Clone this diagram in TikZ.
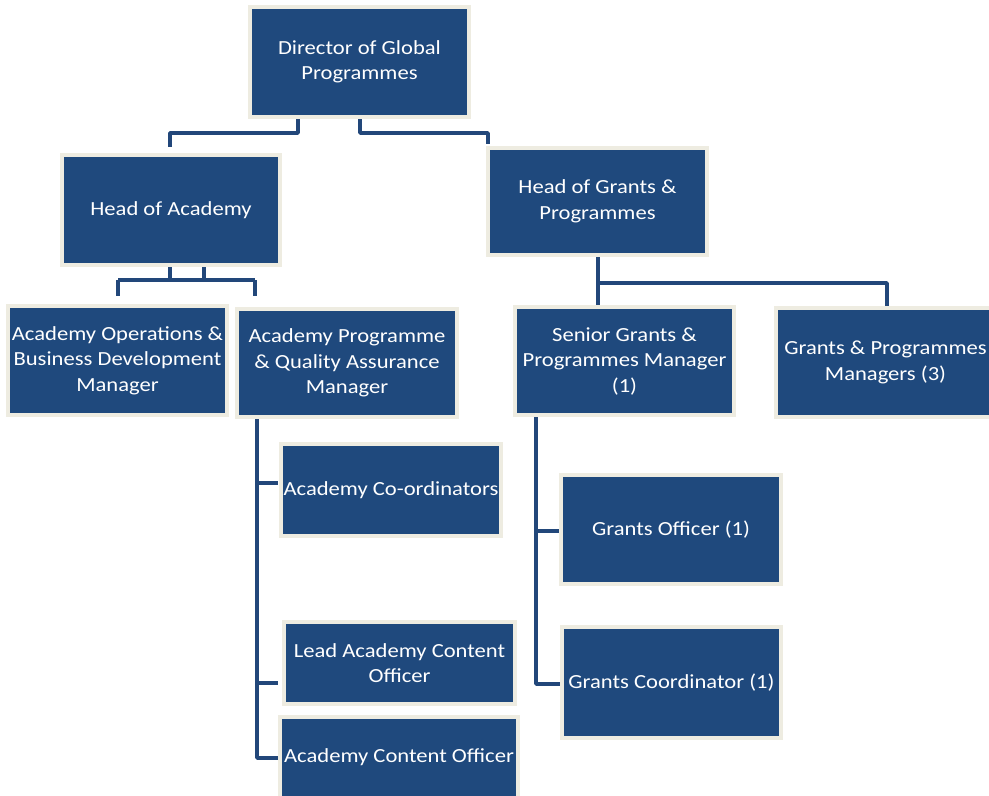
\documentclass[tikz,border=0pt]{standalone}
\usepackage{fontspec}
\setmainfont[FakeStretch=1.13]{Carlito}
\usetikzlibrary{backgrounds}
\definecolor{boxblue}{HTML}{1F497D}
\definecolor{boxcream}{HTML}{EEECE1}
\definecolor{connblue}{HTML}{22477A}
\begin{document}
\begin{tikzpicture}[x=1pt,y=-1pt,
  orgbox/.style={draw=boxcream, line width=4pt, fill=boxblue, text=white,
    align=center, inner sep=0pt, font=\fontsize{20}{25.5}\selectfont},
  conn/.style={draw=connblue, line width=3.5pt, line join=round}]
\useasboundingbox (0,0) rectangle (989,796);
\clip (0,0) rectangle (989,796);

\node[orgbox, minimum width=219pt, minimum height=110pt] (dir) at (359.5,62) {Director of Global\\Programmes};
\node[orgbox, minimum width=218pt, minimum height=110pt] (hoa) at (171,210) {Head of Academy};
\node[orgbox, minimum width=219pt, minimum height=107pt] (hog) at (597.5,201.5) {Head of Grants \&\\Programmes};
\node[orgbox, minimum width=219pt, minimum height=109pt] (ops) at (117.5,360.5) {Academy Operations \&\\Business Development\\Manager};
\node[orgbox, minimum width=220pt, minimum height=108pt] (aqa) at (347,363) {Academy Programme\\\& Quality Assurance\\Manager};
\node[orgbox, minimum width=219pt, minimum height=108pt] (sgp) at (624.5,361) {Senior Grants \&\\Programmes Manager\\(1)};
\node[orgbox, minimum width=219pt, minimum height=109pt] (gpm) at (885.5,362.5) {Grants \& Programmes\\Managers (3)};
\node[orgbox, minimum width=220pt, minimum height=92pt] (aco) at (391,490) {Academy Co-ordinators};
\node[orgbox, minimum width=231pt, minimum height=82pt] (lead) at (399.5,663) {Lead Academy Content\\Officer};
\node[orgbox, minimum width=238pt, minimum height=81pt] (aco2) at (399,757.5) {Academy Content Officer};
\node[orgbox, minimum width=220pt, minimum height=109pt] (gof) at (671,529.5) {Grants Officer (1)};
\node[orgbox, minimum width=219pt, minimum height=111pt] (gco) at (671.5,682.5) {Grants Coordinator (1)};

\begin{pgfonlayer}{background}
\fill[white] (0,0) rectangle (989,796);
\draw[conn] (dir.south -| 298,0) -- (298,133) -- (170,133) -- ([yshift=6pt]hoa.north -| 170,0);
\draw[conn] (dir.south -| 360,0) -- (360,133) -- (488,133) -- ([yshift=2pt]hog.north -| 488,0);
\draw[conn] (hoa.south -| 170,0) -- (170,280);
\draw[conn] (hoa.south -| 204,0) -- (204,280);
\draw[conn] (118,280) -- (255,280);
\draw[conn] (118,280) -- ([yshift=8pt]ops.north -| 118,0);
\draw[conn] (255,280) -- ([yshift=11pt]aqa.north -| 255,0);
\draw[conn] (hog.south -| 598,0) -- (sgp.north -| 598,0);
\draw[conn] (598,283) -- (887,283) -- (gpm.north -| 887,0);
\draw[conn] (aqa.south -| 257,0) -- (257,758) -- (aco2.west |- 0,758);
\draw[conn] (257,483) -- ([xshift=-1pt]aco.west |- 0,483);
\draw[conn] (257,683) -- ([xshift=-4pt]lead.west |- 0,683);
\draw[conn] (sgp.south -| 536,0) -- (536,684) -- (gco.west |- 0,684);
\draw[conn] (536,531) -- (gof.west |- 0,531);
\end{pgfonlayer}
\end{tikzpicture}
\end{document}
